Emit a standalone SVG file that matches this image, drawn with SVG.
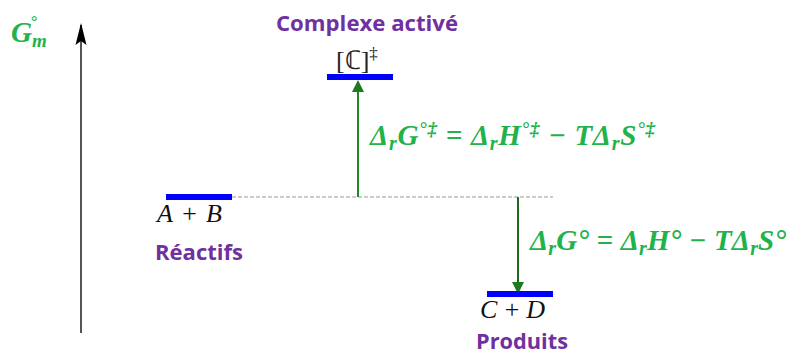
<svg xmlns="http://www.w3.org/2000/svg" width="789" height="355" viewBox="0 0 789 355">
<style>
.lbl{font-family:"Open Sans","Liberation Sans",sans-serif;font-weight:bold;fill:#7030A0;font-size:21px}
.math{font-family:"Liberation Serif","DejaVu Serif",serif;font-style:italic;fill:#111;font-size:26px}
.eq{font-family:"Liberation Serif","DejaVu Serif",serif;font-style:italic;font-weight:bold;fill:#22B24C;font-size:29px}
.bar{fill:#0000FF}
</style>
<defs>
<marker id="ah" markerWidth="12" markerHeight="12" refX="10" refY="6" orient="auto" markerUnits="userSpaceOnUse">
<path d="M0,0 L12,6 L0,12 Z" fill="#1E7A1E"/>
</marker>
<marker id="ak" markerWidth="22" markerHeight="12" refX="20" refY="6" orient="auto" markerUnits="userSpaceOnUse">
<path d="M0,0.5 L22,6 L0,11.5 L4,6 Z" fill="#000"/>
</marker>
</defs>
<g id="axis">
<line x1="81" y1="333" x2="81" y2="25" stroke="#555" stroke-width="2" marker-end="url(#ak)"/>
<text x="11" y="42" class="eq" font-size="26">G<tspan font-size="19" dy="5">m</tspan></text>
<text x="31" y="27" font-family="Liberation Serif,serif" font-size="16" fill="#22B24C" font-weight="bold">°</text>
</g>
<g id="connectors">
<line x1="232" y1="197" x2="553" y2="197" stroke="#999" stroke-width="1" stroke-dasharray="4,2"/>
<line x1="358" y1="197" x2="358" y2="82" stroke="#1E8A1E" stroke-width="2" marker-end="url(#ah)"/>
<line x1="518" y1="197" x2="518" y2="292" stroke="#1E6A1E" stroke-width="2" marker-end="url(#ah)"/>
</g>
<g id="complexe">
<rect class="bar" x="327" y="74" width="66" height="6"/>
<text class="lbl" x="367" y="31" text-anchor="middle" textLength="182" lengthAdjust="spacingAndGlyphs">Complexe activé</text>
<text x="336" y="69" font-family="Liberation Serif,serif" font-size="26" fill="#222">[ℂ]<tspan font-size="17" dy="-10">‡</tspan></text>
</g>
<g id="reactifs">
<rect class="bar" x="166" y="194" width="66" height="6"/>
<text class="math" x="157" y="222" textLength="65" lengthAdjust="spacing">A + B</text>
<text class="lbl" x="155" y="260" textLength="88" lengthAdjust="spacingAndGlyphs">Réactifs</text>
</g>
<g id="produits">
<rect class="bar" x="487" y="291" width="66" height="6"/>
<text class="math" x="480" y="318" textLength="65" lengthAdjust="spacing">C + D</text>
<text class="lbl" x="476" y="349" textLength="92" lengthAdjust="spacingAndGlyphs">Produits</text>
</g>
<g id="eq1">
<text class="eq" x="370" y="145" textLength="285" lengthAdjust="spacing">Δ<tspan font-size="20" dy="5">r</tspan><tspan dy="-5">G</tspan><tspan font-size="19" dy="-10">°‡</tspan><tspan dy="10"> = Δ</tspan><tspan font-size="20" dy="5">r</tspan><tspan dy="-5">H</tspan><tspan font-size="19" dy="-10">°‡</tspan><tspan dy="10"> − TΔ</tspan><tspan font-size="20" dy="5">r</tspan><tspan dy="-5">S</tspan><tspan font-size="19" dy="-10">°‡</tspan></text>
</g>
<g id="eq2">
<text class="eq" x="530" y="250" textLength="256" lengthAdjust="spacing">Δ<tspan font-size="20" dy="5">r</tspan><tspan dy="-5">G°</tspan> = Δ<tspan font-size="20" dy="5">r</tspan><tspan dy="-5">H° − TΔ</tspan><tspan font-size="20" dy="5">r</tspan><tspan dy="-5">S°</tspan></text>
</g>
</svg>
